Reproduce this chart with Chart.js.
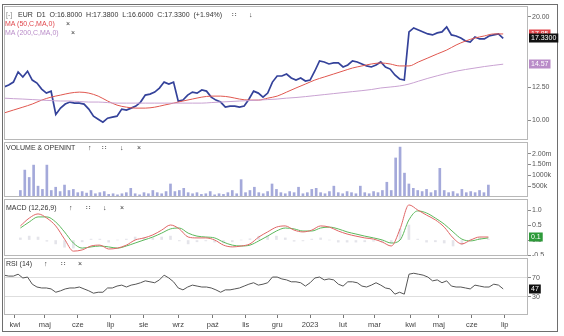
<!DOCTYPE html>
<html>
<head>
<meta charset="utf-8">
<script src="https://cdn.jsdelivr.net/npm/chart.js@4.4.0/dist/chart.umd.min.js"></script>
<style>
body { margin: 0; background: #fff; width: 564px; height: 336px; overflow: hidden; position: relative; font-family: "Liberation Sans", Arial, sans-serif; }
canvas { position: absolute; left: 0; }
.frame { position: absolute; left: 2px; top: 4px; width: 556px; height: 328px; border: 1px solid #6e6e6e; box-sizing: border-box; }
.hd { position: absolute; font-size: 7px; line-height: 8px; color: #333; white-space: pre; z-index: 2; }
</style>
</head>
<body>
<div class="frame"></div>
<canvas id="cPrice" width="564" height="134" style="top:6px"></canvas>
<canvas id="cVol" width="564" height="55" style="top:142px"></canvas>
<canvas id="cMacd" width="564" height="57" style="top:199px"></canvas>
<canvas id="cRsi" width="564" height="74" style="top:258px"></canvas>

<div class="hd" style="left:6px;top:11px;color:#888">[-]</div>
<div class="hd" style="left:18px;top:11px">EUR  D1  O:16.8000  H:17.3800  L:16.6000  C:17.3300  (+1.94%)</div>
<div class="hd" style="left:232px;top:11px">∷</div>
<div class="hd" style="left:249px;top:11px">↓</div>
<div class="hd" style="left:5px;top:20px;color:#e0474c">MA (50,C,MA,0)</div>
<div class="hd" style="left:66px;top:20px">×</div>
<div class="hd" style="left:5px;top:29px;color:#b98cc8">MA (200,C,MA,0)</div>
<div class="hd" style="left:71px;top:29px">×</div>

<div class="hd" style="left:6px;top:144px">VOLUME &amp; OPENINT</div>
<div class="hd" style="left:88px;top:144px">↑</div>
<div class="hd" style="left:102px;top:144px">∷</div>
<div class="hd" style="left:120px;top:144px">↓</div>
<div class="hd" style="left:137px;top:144px">×</div>

<div class="hd" style="left:6px;top:204px">MACD (12,26,9)</div>
<div class="hd" style="left:69px;top:204px">↑</div>
<div class="hd" style="left:86px;top:204px">∷</div>
<div class="hd" style="left:103px;top:204px">↓</div>
<div class="hd" style="left:120px;top:204px">×</div>

<div class="hd" style="left:6px;top:260px">RSI (14)</div>
<div class="hd" style="left:44px;top:260px">↑</div>
<div class="hd" style="left:61px;top:260px">∷</div>
<div class="hd" style="left:78px;top:260px">×</div>

<script>
// trading-day axis: day 0 = first session of April 2022
var dayStart = -7;
var monthDays = [0, 19, 40, 61, 82, 104, 126, 147, 167, 188, 209, 229, 252, 270, 291, 312];
var monthLabels = ['kwi', 'maj', 'cze', 'lip', 'sie', 'wrz', 'paź', 'lis', 'gru', '2023', 'lut', 'mar', 'kwi', 'maj', 'cze', 'lip'];

// close, one value every 3 sessions
var priceClose = [12.50, 12.67, 12.92, 13.83, 13.37, 13.90, 13.10, 12.84, 12.33, 12.00,
  12.15, 10.40, 10.85, 11.15, 11.30, 11.22, 11.22, 11.15, 10.78, 10.28,
  10.07, 9.87, 10.14, 10.21, 10.28, 10.78, 10.71, 10.85, 11.00, 11.30,
  11.84, 11.92, 12.08, 12.41, 12.92, 12.75, 12.92, 11.37, 11.45, 11.84,
  12.08, 12.00, 12.25, 12.16, 11.68, 11.45, 11.30, 10.92, 11.00, 11.00,
  10.92, 11.00, 11.52, 12.16, 12.00, 11.68, 12.00, 12.92, 13.46, 13.46,
  13.64, 13.28, 13.10, 13.28, 13.01, 13.10, 13.92, 14.89, 14.79, 14.59,
  14.69, 14.69, 14.30, 14.49, 14.89, 14.79, 14.59, 14.40, 14.30, 14.49,
  14.79, 14.30, 14.10, 13.55, 13.19, 13.10, 18.09, 18.58, 18.33, 18.09,
  17.85, 17.73, 17.97, 18.09, 18.70, 17.73, 17.61, 17.37, 17.02, 16.91,
  17.49, 17.26, 17.26, 17.61, 17.73, 17.85, 17.33];

// moving averages, one value every 6 sessions
var ma50 = [10.50, 10.71, 10.92, 11.15, 11.45, 11.68, 11.84, 12.00, 12.08, 12.00,
  11.76, 11.38, 11.07, 10.92, 10.85, 10.85, 10.92, 11.07, 11.22, 11.38,
  11.53, 11.68, 11.76, 11.76, 11.68, 11.53, 11.45, 11.45, 11.60, 11.76,
  12.08, 12.42, 12.75, 13.10, 13.37, 13.64, 13.92, 14.20, 14.40, 14.59,
  14.69, 14.59, 14.40, 14.40, 14.79, 15.19, 15.61, 16.02, 16.57, 17.02,
  17.37, 17.61, 17.85, 17.85];
var ma200 = [11.60, 11.56, 11.53, 11.49, 11.45, 11.41, 11.38, 11.38, 11.34, 11.30,
  11.30, 11.26, 11.22, 11.22, 11.22, 11.22, 11.22, 11.22, 11.22, 11.22,
  11.22, 11.22, 11.26, 11.30, 11.34, 11.38, 11.41, 11.45, 11.49, 11.53,
  11.60, 11.65, 11.72, 11.80, 11.88, 11.96, 12.04, 12.12, 12.20, 12.29,
  12.42, 12.50, 12.59, 12.75, 13.00, 13.25, 13.48, 13.70, 13.90, 14.06,
  14.20, 14.34, 14.46, 14.57];

// volume in millions, one bar every 3 sessions
var volume = [0.30, 1.24, 0.90, 1.47, 0.50, 0.35, 1.47, 0.30, 0.45, 0.25,
  0.55, 0.30, 0.35, 0.20, 0.25, 0.18, 0.30, 0.15, 0.20, 0.25,
  0.12, 0.15, 0.10, 0.15, 0.20, 0.40, 0.15, 0.10, 0.20, 0.15,
  0.30, 0.20, 0.15, 0.25, 0.60, 0.25, 0.30, 0.40, 0.20, 0.15,
  0.20, 0.12, 0.15, 0.25, 0.10, 0.15, 0.12, 0.20, 0.30, 0.15,
  0.80, 0.20, 0.30, 0.45, 0.20, 0.15, 0.25, 0.60, 0.35, 0.20,
  0.15, 0.25, 0.20, 0.45, 0.15, 0.20, 0.35, 0.40, 0.20, 0.15,
  0.25, 0.50, 0.20, 0.15, 0.25, 0.20, 0.15, 0.50, 0.20, 0.15,
  0.25, 0.20, 0.30, 0.68, 0.30, 1.80, 2.30, 1.10, 0.60, 0.40,
  0.30, 0.25, 0.35, 0.20, 0.30, 1.32, 0.30, 0.20, 0.25, 0.15,
  0.35, 0.20, 0.25, 0.20, 0.30, 0.20, 0.55];

// MACD, one value every 6 sessions
var macdLine = [0.47, 0.73, 0.87, 0.73, 0.47, 0.03, -0.37, -0.33, -0.20, -0.17,
  -0.30, -0.27, -0.17, 0.00, 0.07, 0.17, 0.33, 0.50, 0.37, 0.10,
  0.07, 0.07, 0.00, -0.17, -0.23, -0.20, -0.13, 0.10, 0.27, 0.43,
  0.47, 0.33, 0.27, 0.33, 0.47, 0.43, 0.30, 0.20, 0.13, 0.07,
  0.03, -0.07, -0.20, 0.37, 1.17, 1.00, 0.83, 0.67, 0.43, 0.07,
  -0.13, 0.00, 0.10, 0.10];
var macdSignal = [0.40, 0.60, 0.77, 0.77, 0.60, 0.27, -0.10, -0.27, -0.23, -0.20,
  -0.23, -0.27, -0.20, -0.10, 0.00, 0.10, 0.23, 0.37, 0.40, 0.23,
  0.13, 0.10, 0.07, -0.07, -0.17, -0.20, -0.17, -0.03, 0.13, 0.30,
  0.40, 0.37, 0.30, 0.30, 0.40, 0.43, 0.37, 0.27, 0.20, 0.13,
  0.07, 0.00, -0.10, 0.00, 0.67, 0.97, 0.90, 0.73, 0.53, 0.27,
  0.03, -0.03, 0.03, 0.07];
var macdHist = [0.07, 0.13, 0.10, -0.04, -0.13, -0.24, -0.27, -0.06, 0.03, 0.03,
  -0.07, 0.00, 0.03, 0.10, 0.07, 0.07, 0.10, 0.13, -0.03, -0.13,
  -0.06, -0.03, -0.07, -0.10, -0.06, 0.00, 0.04, 0.13, 0.14, 0.13,
  0.07, -0.04, -0.03, 0.03, 0.07, 0.00, -0.07, -0.07, -0.07, -0.06,
  -0.04, -0.07, -0.10, 0.37, 0.50, 0.03, -0.07, -0.06, -0.10, -0.20,
  -0.16, 0.03, 0.07, 0.03];

// RSI, one value every 3 sessions
var rsi = [76, 74, 74, 78, 70, 72, 57, 51, 49, 49,
  47, 40, 43, 47, 49, 49, 51, 47, 43, 38,
  40, 40, 49, 49, 53, 55, 51, 55, 57, 60,
  64, 62, 60, 66, 76, 70, 62, 49, 45, 51,
  55, 53, 51, 51, 49, 45, 40, 45, 45, 47,
  49, 53, 57, 60, 55, 57, 60, 72, 72, 68,
  66, 62, 62, 60, 53, 60, 70, 72, 66, 68,
  66, 57, 53, 62, 62, 60, 53, 51, 55, 60,
  55, 49, 47, 36, 40, 36, 78, 80, 78, 76,
  72, 64, 66, 60, 64, 53, 51, 51, 49, 47,
  55, 53, 51, 51, 57, 55, 47];

var priceTicks = [10, 12.5, 20];
var volTicks = [0.5, 1, 1.5, 2];
var volTickLabels = ['500k', '1000k', '1.50m', '2.00m'];
var macdTicks = [-0.5, 0, 0.5, 1];
var rsiTicks = [30, 70];

function series(values, step) {
  return values.map(function (v, i) { return { x: dayStart + i * step, y: v }; });
}

Chart.defaults.font.family = '"Liberation Sans", Arial, sans-serif';
Chart.defaults.animation = false;

// panel border + value tags on the right axis
var tagPlugin = {
  id: 'tags',
  afterDraw: function (chart, args, opts) {
    var ctx = chart.ctx, a = chart.chartArea, sy = chart.scales.y;
    ctx.save();
    ctx.strokeStyle = '#b8b8b8';
    ctx.lineWidth = 1;
    ctx.strokeRect(a.left + 0.5, a.top + 0.5, a.right - a.left - 1, a.bottom - a.top - 1);
    ctx.font = '7px "Liberation Sans", Arial, sans-serif';
    ctx.textBaseline = 'middle';
    (opts.tags || []).forEach(function (t) {
      var py = Math.round(sy.getPixelForValue(t.value));
      var w = ctx.measureText(t.text).width + 4;
      ctx.fillStyle = t.bg;
      ctx.fillRect(a.right + 1, py - 4.5, w, 9);
      ctx.fillStyle = '#fff';
      ctx.fillText(t.text, a.right + 3, py + 0.5);
    });
    ctx.restore();
  }
};

function xScale(show) {
  return {
    type: 'linear', min: -7, max: 326.8, display: show,
    afterBuildTicks: function (s) { s.ticks = monthDays.map(function (v) { return { value: v }; }); },
    afterFit: function (s) {
      s.height = show ? 17 : 0;
      s.paddingLeft = 0; s.paddingRight = 0;
    },
    grid: { drawOnChartArea: false, tickLength: 3, color: '#777' },
    border: { display: false },
    ticks: { autoSkip: false, maxRotation: 0, font: { size: 7.5 }, color: '#444', padding: 2,
      callback: function (v, i) { return monthLabels[i]; } }
  };
}

function yScale(opts, tickList, fmt, gridColor) {
  var s = {
    position: 'right',
    afterBuildTicks: function (sc) { sc.ticks = tickList.map(function (v) { return { value: v }; }); },
    afterFit: function (sc) { sc.width = 30; sc.paddingTop = 0; sc.paddingBottom = 0; },
    grid: { drawOnChartArea: !!gridColor, color: gridColor || '#888', tickLength: 3, tickColor: '#888' },
    border: { display: false },
    ticks: { autoSkip: false, font: { size: 7 }, color: '#555', padding: 1, callback: fmt }
  };
  for (var k in opts) s[k] = opts[k];
  return s;
}

function baseOptions(scales, tags) {
  return {
    responsive: false,
    events: [],
    layout: { padding: { left: 4, right: 6, top: 0, bottom: 0 } },
    plugins: { legend: { display: false }, tooltip: { enabled: false }, tags: { tags: tags } },
    elements: { point: { radius: 0 } },
    scales: scales
  };
}

// price panel
new Chart(document.getElementById('cPrice'), {
  type: 'line',
  data: {
    datasets: [
      { data: series(ma200, 6), borderColor: '#c9a2d2', borderWidth: 1, cubicInterpolationMode: 'monotone' },
      { data: series(ma50, 6), borderColor: '#e0574f', borderWidth: 1, cubicInterpolationMode: 'monotone' },
      { data: series(priceClose, 3), borderColor: '#34429a', borderWidth: 1.7 }
    ]
  },
  options: baseOptions({
    x: xScale(false),
    y: yScale({ type: 'logarithmic', min: 8.76, max: 21.53 }, priceTicks, function (v) { return Number(v).toFixed(2); })
  }, [
    { value: ma50[ma50.length - 1], text: ma50[ma50.length - 1].toFixed(2), bg: '#e0474c' },
    { value: priceClose[priceClose.length - 1], text: priceClose[priceClose.length - 1].toFixed(4), bg: '#111' },
    { value: ma200[ma200.length - 1], text: ma200[ma200.length - 1].toFixed(2), bg: '#b98cc8' }
  ]),
  plugins: [tagPlugin]
});

// volume panel
new Chart(document.getElementById('cVol'), {
  type: 'bar',
  data: {
    datasets: [{ data: series(volume, 3), backgroundColor: '#a4a9da', barThickness: 2 }]
  },
  options: baseOptions({
    x: xScale(false),
    y: yScale({ type: 'linear', min: 0, max: 2.535 }, volTicks, function (v, i) { return volTickLabels[i]; })
  }, []),
  plugins: [tagPlugin]
});

// MACD panel
new Chart(document.getElementById('cMacd'), {
  type: 'line',
  data: {
    datasets: [
      { type: 'bar', data: series(macdHist, 6), backgroundColor: '#e4e4ea', barThickness: 2, order: 3 },
      { data: series(macdSignal, 6), borderColor: '#5cb85c', borderWidth: 1, cubicInterpolationMode: 'monotone', order: 2 },
      { data: series(macdLine, 6), borderColor: '#e06666', borderWidth: 1, cubicInterpolationMode: 'monotone', order: 1 }
    ]
  },
  options: baseOptions({
    x: xScale(false),
    y: yScale({ type: 'linear', min: -0.533, max: 1.367 }, macdTicks, function (v) { return Number(v).toFixed(1); })
  }, [
    { value: macdLine[macdLine.length - 1], text: macdLine[macdLine.length - 1].toFixed(1), bg: '#2e9a3a' }
  ]),
  plugins: [tagPlugin]
});

// RSI panel with the shared date axis
new Chart(document.getElementById('cRsi'), {
  type: 'line',
  data: {
    datasets: [{ data: series(rsi, 3), borderColor: '#555', borderWidth: 1 }]
  },
  options: baseOptions({
    x: xScale(true),
    y: yScale({ type: 'linear', min: -7.9, max: 112.1 }, rsiTicks, function (v) { return String(v); }, '#dedede')
  }, [
    { value: rsi[rsi.length - 1], text: String(rsi[rsi.length - 1]), bg: '#111' }
  ]),
  plugins: [tagPlugin]
});
</script>
</body>
</html>
